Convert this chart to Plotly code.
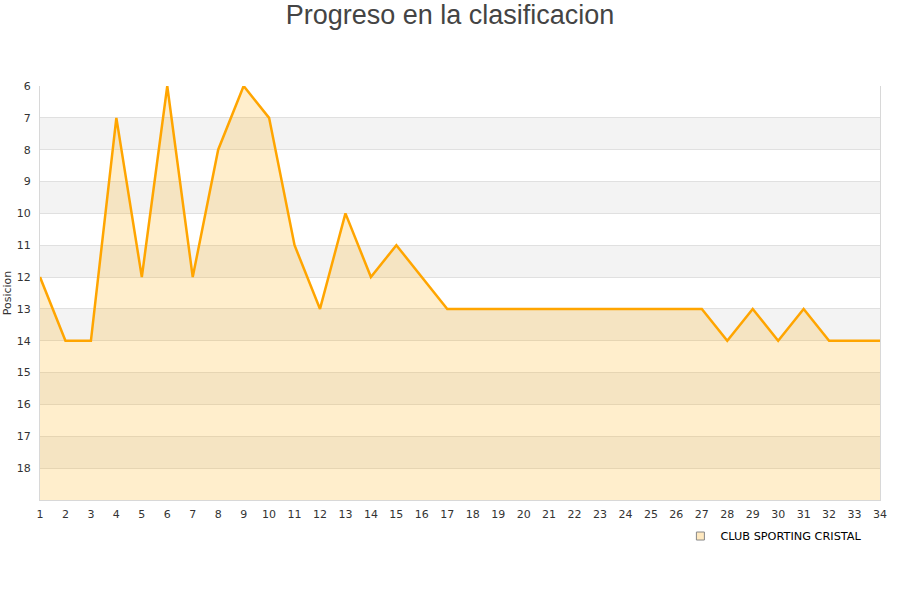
import plotly.graph_objects as go

jornadas = list(range(1, 35))
posicion = [12, 14, 14, 7, 12, 6, 12, 8, 6, 7, 11, 13, 10, 12, 11, 12, 13,
            13, 13, 13, 13, 13, 13, 13, 13, 13, 13, 14, 13, 14, 13, 14, 14, 14]
team = "CLUB SPORTING CRISTAL"
y_ticks = list(range(6, 19))
y_min, y_max = 6, 19

fig = go.Figure()

# alternating bands
shapes = []
for k in range(7, 19, 2):
    shapes.append(dict(type="rect", xref="paper", yref="y", x0=0, x1=1, y0=k, y1=k + 1,
                       fillcolor="#f3f3f3", line_width=0, layer="below"))

# baseline for fill
fig.add_trace(go.Scatter(x=jornadas, y=[y_max] * len(jornadas), mode="lines",
                         line=dict(width=0, color="rgba(0,0,0,0)"), showlegend=False,
                         hoverinfo="skip"))
fig.add_trace(go.Scatter(x=jornadas, y=posicion, mode="lines", fill="tonexty",
                         fillcolor="rgba(255,170,0,0.2)",
                         line=dict(color="#FFA500", width=2.5), name=team, showlegend=False))
fig.add_trace(go.Scatter(x=[None], y=[None], mode="markers", name=team,
                         marker=dict(symbol="square", size=8, color="#FFE9C0",
                                     line=dict(color="#888888", width=1))))

fig.update_layout(
    width=900, height=600,
    paper_bgcolor="white", plot_bgcolor="white",
    margin=dict(l=40, r=20, t=86, b=100),
    title=dict(text="Progreso en la clasificacion", x=0.5, xanchor="center", y=0.975, yanchor="middle",
               font=dict(family="Liberation Sans, Arial", size=27, color="#444444")),
    shapes=shapes,
    showlegend=True,
    legend=dict(x=0.985, xanchor="right", y=-0.087, yanchor="middle", orientation="h",
                font=dict(family="DejaVu Sans", size=11.3, color="#000000"),
                bgcolor="rgba(0,0,0,0)"),
    font=dict(family="DejaVu Sans", size=11, color="#333333"),
)
fig.update_xaxes(range=[1, 34], tickmode="array", tickvals=jornadas, ticktext=[str(j) for j in jornadas],
                 showgrid=False, zeroline=False, showline=True, linecolor="#d8d8d8", linewidth=1,
                 mirror=False, ticks="", automargin=False, ticklabelstandoff=4,
                 tickfont=dict(size=11, color="#333333"))
fig.update_yaxes(range=[y_max, y_min], tickmode="array", tickvals=y_ticks,
                 ticktext=[str(t) for t in y_ticks], showgrid=True, gridcolor="#e0e0e0",
                 zeroline=False, showline=True, linecolor="#d8d8d8", linewidth=1, mirror=True,
                 ticks="", automargin=False, ticklabelstandoff=6,
                 title=dict(text="Posicion", font=dict(size=11, color="#333333"), standoff=2),
                 tickfont=dict(size=11, color="#333333"))

fig.write_html("out.html", config={"displayModeBar": False},
               post_script="document.body.style.margin='0';")
